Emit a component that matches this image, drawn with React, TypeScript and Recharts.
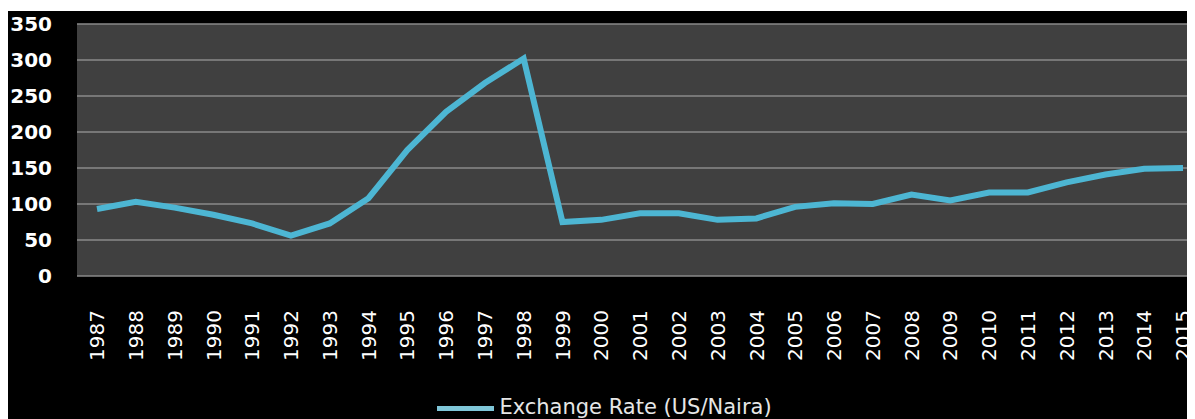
import React from "react";
import { LineChart, Line, XAxis, YAxis, CartesianGrid, Legend } from "recharts";

const years = [
  "1987", "1988", "1989", "1990", "1991", "1992", "1993", "1994", "1995", "1996",
  "1997", "1998", "1999", "2000", "2001", "2002", "2003", "2004", "2005", "2006",
  "2007", "2008", "2009", "2010", "2011", "2012", "2013", "2014", "2015",
];

const exchangeRate = [
  93, 103, 95, 85, 73, 56, 73, 108, 175, 228,
  268, 302, 75, 78, 87, 87, 78, 80, 96, 101,
  100, 113, 105, 116, 116, 130, 141, 149, 150,
];

const yTicks = [0, 50, 100, 150, 200, 250, 300, 350];

const data = years.map((year, i) => ({ year, rate: exchangeRate[i] }));

const LINE_COLOR = "#4db6d3";
const FONT = "'DejaVu Sans', sans-serif";

function YTick({ x, y, payload }: any) {
  return (
    <text
      x={x - 17}
      y={y}
      dy="0.36em"
      textAnchor="end"
      fill="#ffffff"
      fontSize={20}
      fontWeight="bold"
      fontFamily={FONT}
    >
      {payload.value}
    </text>
  );
}

function XTick({ x, y, payload }: any) {
  return (
    <text
      transform={`translate(${x},${y + 26}) rotate(-90)`}
      dy="0.36em"
      textAnchor="end"
      fill="#ffffff"
      fontSize={20}
      fontFamily={FONT}
    >
      {payload.value}
    </text>
  );
}

function LegendContent() {
  return (
    <div
      style={{
        display: "flex",
        alignItems: "center",
        justifyContent: "center",
        boxSizing: "border-box",
        height: 30,
        paddingTop: 5,
        paddingLeft: 14,
        fontFamily: FONT,
        fontSize: 21,
        color: "#e6e6e6",
      }}
    >
      <span style={{ display: "inline-block", width: 57, height: 5, background: "#7fc6d8", marginRight: 5, marginTop: 3 }} />
      <span>Exchange Rate (US/Naira)</span>
    </div>
  );
}

export default function App() {
  return (
    <div style={{ paddingTop: 3, background: "#ffffff" }}>
      <div style={{ width: 1187, height: 408, background: "#000000", overflow: "hidden" }}>
        <LineChart width={1187} height={408} data={data} margin={{ top: 13, right: 8, bottom: 0, left: 0 }}>
          <CartesianGrid
            vertical={false}
            fill="#404040"
            stroke="#8a8a8a"
            strokeWidth={1.5}
          />
          <XAxis
            dataKey="year"
            interval={0}
            height={113}
            padding={{ left: 20, right: 4 }}
            axisLine={false}
            tickLine={false}
            tick={<XTick />}
          />
          <YAxis
            domain={[0, 350]}
            ticks={yTicks}
            width={69}
            axisLine={false}
            tickLine={false}
            tick={<YTick />}
          />
          <Legend verticalAlign="bottom" height={30} content={<LegendContent />} />
          <Line
            type="linear"
            dataKey="rate"
            stroke={LINE_COLOR}
            strokeWidth={6}
            dot={false}
            isAnimationActive={false}
          />
        </LineChart>
      </div>
    </div>
  );
}
